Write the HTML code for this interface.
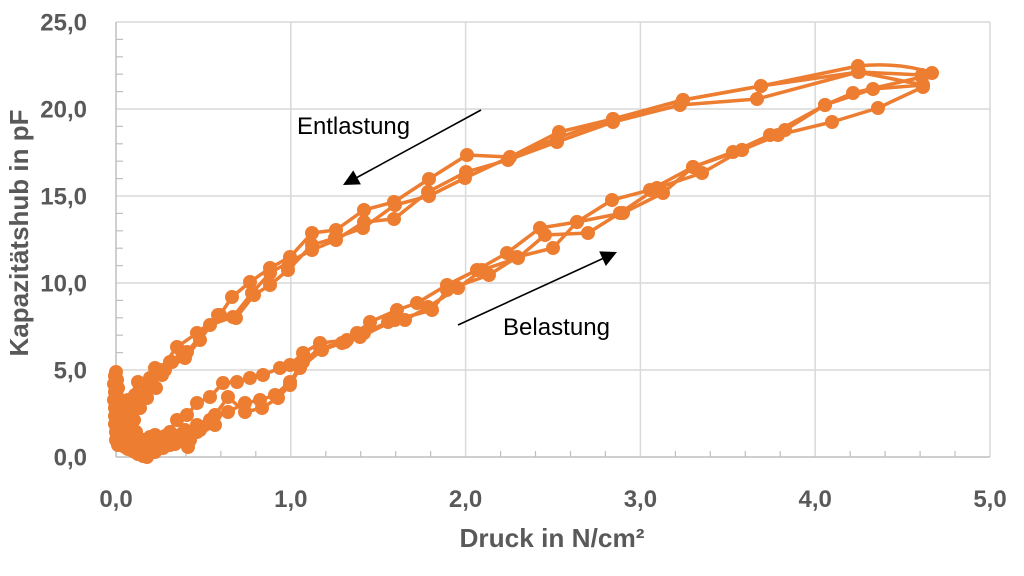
<!DOCTYPE html>
<html>
<head>
<meta charset="utf-8">
<style>
  html,body{margin:0;padding:0;background:#fff;}
  svg{display:block;}
  .tk{font-family:"Liberation Sans",sans-serif;font-weight:bold;font-size:24px;fill:#595959;}
  .ann{font-family:"Liberation Sans",sans-serif;font-size:24px;fill:#000;}
  .s{fill:none;stroke:#ED7D31;stroke-width:3.5;stroke-linejoin:round;marker-start:url(#m);marker-mid:url(#m);marker-end:url(#m);}
</style>
</head>
<body>
<svg width="1024" height="576" viewBox="0 0 1024 576" xmlns="http://www.w3.org/2000/svg">
  <defs>
    <marker id="m" markerWidth="16" markerHeight="16" refX="8" refY="8" markerUnits="userSpaceOnUse" overflow="visible">
      <circle cx="8" cy="8" r="7" fill="#ED7D31"/>
    </marker>
  </defs>

  <!-- gridlines -->
  <g stroke="#d9d9d9" stroke-width="1.5">
    <line x1="116" y1="22" x2="990" y2="22"/>
    <line x1="116" y1="109" x2="990" y2="109"/>
    <line x1="116" y1="196" x2="990" y2="196"/>
    <line x1="116" y1="283" x2="990" y2="283"/>
    <line x1="116" y1="370" x2="990" y2="370"/>
    <line x1="290.8" y1="22" x2="290.8" y2="457"/>
    <line x1="465.6" y1="22" x2="465.6" y2="457"/>
    <line x1="640.4" y1="22" x2="640.4" y2="457"/>
    <line x1="815.2" y1="22" x2="815.2" y2="457"/>
    <line x1="990" y1="22" x2="990" y2="457"/>
  </g>
  <!-- axes -->
  <g stroke="#bfbfbf" stroke-width="1.5">
    <line x1="116" y1="22" x2="116" y2="457"/>
    <line x1="116" y1="457" x2="990" y2="457"/>
  </g>

  <!-- minor ticks -->
  <g stroke="#bfbfbf" stroke-width="1.2">
    <line x1="116" y1="39.4" x2="123" y2="39.4"/><line x1="116" y1="56.8" x2="123" y2="56.8"/><line x1="116" y1="74.2" x2="123" y2="74.2"/><line x1="116" y1="91.6" x2="123" y2="91.6"/>
    <line x1="116" y1="126.4" x2="123" y2="126.4"/><line x1="116" y1="143.8" x2="123" y2="143.8"/><line x1="116" y1="161.2" x2="123" y2="161.2"/><line x1="116" y1="178.6" x2="123" y2="178.6"/>
    <line x1="116" y1="213.4" x2="123" y2="213.4"/><line x1="116" y1="230.8" x2="123" y2="230.8"/><line x1="116" y1="248.2" x2="123" y2="248.2"/><line x1="116" y1="265.6" x2="123" y2="265.6"/>
    <line x1="116" y1="300.4" x2="123" y2="300.4"/><line x1="116" y1="317.8" x2="123" y2="317.8"/><line x1="116" y1="335.2" x2="123" y2="335.2"/><line x1="116" y1="352.6" x2="123" y2="352.6"/>
    <line x1="116" y1="387.4" x2="123" y2="387.4"/><line x1="116" y1="404.8" x2="123" y2="404.8"/><line x1="116" y1="422.2" x2="123" y2="422.2"/><line x1="116" y1="439.6" x2="123" y2="439.6"/>
    <line x1="151" y1="451" x2="151" y2="457"/><line x1="186" y1="451" x2="186" y2="457"/><line x1="220.9" y1="451" x2="220.9" y2="457"/><line x1="255.8" y1="451" x2="255.8" y2="457"/>
    <line x1="325.8" y1="451" x2="325.8" y2="457"/><line x1="360.7" y1="451" x2="360.7" y2="457"/><line x1="395.7" y1="451" x2="395.7" y2="457"/><line x1="430.6" y1="451" x2="430.6" y2="457"/>
    <line x1="500.6" y1="451" x2="500.6" y2="457"/><line x1="535.5" y1="451" x2="535.5" y2="457"/><line x1="570.5" y1="451" x2="570.5" y2="457"/><line x1="605.4" y1="451" x2="605.4" y2="457"/>
    <line x1="675.4" y1="451" x2="675.4" y2="457"/><line x1="710.3" y1="451" x2="710.3" y2="457"/><line x1="745.3" y1="451" x2="745.3" y2="457"/><line x1="780.2" y1="451" x2="780.2" y2="457"/>
    <line x1="850.2" y1="451" x2="850.2" y2="457"/><line x1="885.1" y1="451" x2="885.1" y2="457"/><line x1="920.1" y1="451" x2="920.1" y2="457"/><line x1="955" y1="451" x2="955" y2="457"/>
  </g>

  <!-- y tick labels -->
  <g class="tk" text-anchor="end">
    <text x="87" y="30.5">25,0</text>
    <text x="87" y="117.5">20,0</text>
    <text x="87" y="204.5">15,0</text>
    <text x="87" y="291.5">10,0</text>
    <text x="87" y="378.5">5,0</text>
    <text x="87" y="465.5">0,0</text>
  </g>
  <!-- x tick labels -->
  <g class="tk" text-anchor="middle">
    <text x="116" y="507">0,0</text>
    <text x="290.8" y="507">1,0</text>
    <text x="465.6" y="507">2,0</text>
    <text x="640.4" y="507">3,0</text>
    <text x="815.2" y="507">4,0</text>
    <text x="990" y="507">5,0</text>
  </g>
  <!-- axis titles -->
  <text class="tk" x="552" y="547" text-anchor="middle" style="font-size:26px" textLength="185" lengthAdjust="spacingAndGlyphs">Druck in N/cm²</text>
  <text class="tk" x="0" y="0" text-anchor="middle" style="font-size:26px" transform="translate(28,233) rotate(-90)" textLength="247" lengthAdjust="spacingAndGlyphs">Kapazitätshub in pF</text>

  <!-- dense cluster near origin -->
  <g fill="#ED7D31">
    <rect x="110" y="372" width="13" height="72" rx="6"/>
  </g>

  <!-- smooth top arc -->
  <path d="M932,73 Q900,62 858,66" fill="none" stroke="#ED7D31" stroke-width="3.5"/>

  <!-- series -->
  <polyline class="s" points="116,440 125,447 135,452 147,457 160,443 177,420 187,415 197,403 210,397 223,383 237,382 250,378 263,375 280,368 290,365 303,353 320,343 347,340 357,333 370,322 397,310 417,303 447,285 477,270 507,253 540,228 577,222 612,200 650,190 693,167 733,152 770,135 825,105 853,93 922,77 932,73"/>
  <polyline class="s" points="858,66 761,86 683,100 613,119 559,132 510,157 467,155 429,179 394,202 364,210 336,230 312,233 290,257 270,268 250,282 232,297 220,315 197,333 177,347 160,370 145,385 130,405 122,425"/>
  <polyline class="s" points="118,438 140,450 160,447 183,437 197,432 210,420 228,412 245,403 260,400 275,395 290,382 303,362 320,348 342,343 364,333 388,322 405,320 428,307 458,288 482,270 518,258 545,235 588,233 620,213 657,188 702,173 742,150 785,130 825,105 873,89 923,85 858,72 757,99 680,105 613,122 557,142 508,160 466,172 428,192 394,219 364,222 336,240 312,250 289,262 270,273 252,293 233,317 210,325 187,352 170,362 155,368 147,387 135,395 125,415 118,430"/>
  <polyline class="s" points="120,430 145,445 165,440 180,435 197,425 215,415 228,397 245,412 262,408 278,398 290,385 300,368 322,350 345,342 360,337 395,320 432,310 447,290 489,275 517,257 553,248 577,222 623,213 663,193 693,167 742,150 778,135 832,122 878,108 923,87 922,75 859,72 761,86 683,100 613,119 557,138 510,157 465,178 429,196 395,205 363,228 335,238 312,245 288,270 270,285 254,295 236,318 218,315 200,340 185,358 165,370 150,378 138,382 128,400 120,420"/>
  <polyline class="s" points="116,372 115,376 117,380 114,384 118,388 115,392 117,396 114,400 118,404 115,408 117,412 115,416 118,420 115,424 117,428 116,432 118,436 117,440 120,444 124,446 128,449 133,451 138,454 143,456"/>
  <polyline class="s" points="125,445 140,440 155,435 170,432 185,430 200,430 215,425 190,440 170,445 155,452 140,450 128,438 122,432"/>
  <polyline class="s" points="124,428 132,412 142,398 152,385 162,375 172,362 182,352"/>
  <polyline class="s" points="118,445 130,440 142,446 152,442 163,448 175,444 188,447 178,438 165,436 150,437 136,432 126,436"/>
  <polyline class="s" points="121,440 127,430 134,420 140,408 147,398 156,388"/>

  <!-- annotations -->
  <text class="ann" x="297" y="134" textLength="113" lengthAdjust="spacingAndGlyphs">Entlastung</text>
  <text class="ann" x="503" y="335" textLength="107" lengthAdjust="spacingAndGlyphs">Belastung</text>
  <line x1="481" y1="110" x2="356" y2="178" stroke="#000" stroke-width="1.6"/>
  <polygon points="343,185 353.3,170.4 360.9,184.4" fill="#000"/>
  <line x1="458" y1="325" x2="604" y2="258" stroke="#000" stroke-width="1.6"/>
  <polygon points="617,252 599.2,251.4 605.8,266" fill="#000"/>
</svg>
</body>
</html>
